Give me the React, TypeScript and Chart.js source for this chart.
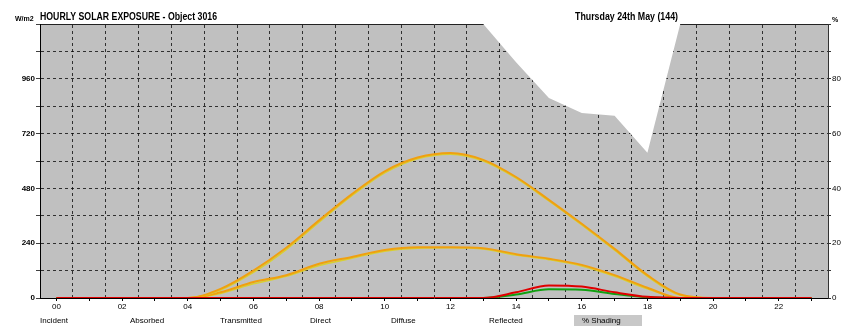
import React, { useEffect, useRef } from 'react';
import { Chart, registerables } from 'chart.js';

Chart.register(...registerables);

// Hour slots (values are plotted at the middle of each hour)
const hourLabels = ['00','01','02','03','04','05','06','07','08','09','10','11','12','13','14','15','16','17','18','19','20','21','22','23'];

// W/m2 series
const incident    = [0,0,0,0,0,40,120,220,340,455,555,615,635,605,530,430,325,215,100,15,0,0,0,0];
const transmitted = [0,0,0,0,0,35,112,212,332,448,548,610,630,600,525,425,320,210,95,12,0,0,0,0];
const direct      = [0,0,0,0,0,25,70,100,150,180,210,222,222,218,192,172,145,100,45,0,0,0,0,0];
const diffuse     = [0,0,0,0,0,20,62,95,142,174,205,218,220,215,188,168,140,95,40,0,0,0,0,0];
const absorbed    = [0,0,0,0,0,0,0,0,0,0,0,0,0,0,15,38,36,18,3,0,0,0,0,0];
const reflected   = [0,0,0,0,0,0,0,0,0,0,0,0,0,0,25,55,50,25,5,0,0,0,0,0];
// % shading (right axis)
const shading     = [100,100,100,100,100,100,100,100,100,100,100,100,100,100,86,73,67.5,66.5,53,100,100,100,100,100];

const legendLabels = ['Incident','Absorbed','Transmitted','Direct','Diffuse','Reflected','% Shading'];
const titleText = 'HOURLY SOLAR EXPOSURE - Object 3016';
const dateText = 'Thursday 24th May (144)';
const leftUnit = 'W/m2';
const rightUnit = '%';

const FONT = '"Liberation Sans", Arial, sans-serif';

const toPoints = (arr: number[]) => arr.map((v, i) => ({ x: i + 0.5, y: v }));

const decorPlugin = {
  id: 'decor',
  beforeDraw(chart: any) {
    const { ctx, chartArea: a } = chart;
    ctx.save();
    ctx.fillStyle = '#c0c0c0';
    ctx.fillRect(a.left, a.top, a.right - a.left, a.bottom - a.top);
    ctx.restore();
  },
  afterDraw(chart: any) {
    const { ctx, chartArea: a } = chart;
    ctx.save();
    ctx.fillStyle = '#000';
    ctx.textBaseline = 'middle';
    ctx.font = `bold 10px ${FONT}`;
    ctx.textAlign = 'left';
    ctx.fillText(titleText, a.left, 17, 177);
    ctx.fillText(dateText, 575, 17, 103);
    ctx.font = `bold 7px ${FONT}`;
    ctx.fillText(leftUnit, 15, 19, 23);
    ctx.fillText(rightUnit, 832, 20);
    // legend
    const xs = [40, 130, 220, 310, 391, 489, 582];
    ctx.fillStyle = '#c8c8c8';
    ctx.fillRect(574, 315, 68, 11);
    ctx.fillStyle = '#000';
    ctx.font = `8px ${FONT}`;
    legendLabels.forEach((t, i) => ctx.fillText(t, xs[i], 321));
    ctx.restore();
  },
};

export default function App() {
  const ref = useRef<HTMLCanvasElement | null>(null);
  useEffect(() => {
    if (!ref.current) return;
    const line = (label: string, data: number[], color: string, width: number, order: number) => ({
      label,
      data: toPoints(data),
      borderColor: color,
      backgroundColor: color,
      borderWidth: width,
      pointRadius: 0,
      cubicInterpolationMode: 'monotone' as const,
      fill: false,
      yAxisID: 'y',
      xAxisID: 'x',
      order,
    });
    const chart = new Chart(ref.current, {
      type: 'line',
      data: {
        datasets: [
          line('Diffuse', diffuse, '#d8d030', 1.5, 6),
          line('Direct', direct, '#f0a010', 2, 5),
          line('Transmitted', transmitted, '#d8d030', 1.5, 4),
          line('Incident', incident, '#f0a010', 2, 3),
          line('Absorbed', absorbed, '#10a010', 2, 2),
          line('Reflected', reflected, '#e00000', 2, 1),
          {
            label: '% Shading',
            data: toPoints(shading),
            borderWidth: 0,
            borderColor: 'rgba(0,0,0,0)',
            backgroundColor: '#ffffff',
            pointRadius: 0,
            fill: 'end',
            tension: 0,
            yAxisID: 'y1',
            xAxisID: 'x',
            order: 10,
          } as any,
        ],
      },
      options: {
        animation: false,
        responsive: false,
        events: [],
        layout: { padding: { top: 24, bottom: 14, left: 0, right: 0 } },
        plugins: { legend: { display: false }, tooltip: { enabled: false }, title: { display: false } },
        scales: {
          x: {
            type: 'linear',
            position: 'bottom',
            min: 0,
            max: 24,
            afterBuildTicks: (s: any) => {
              s.ticks = hourLabels.map((_, i) => ({ value: i + 0.5 }));
            },
            afterFit: (s: any) => { s.height = 14; },
            ticks: {
              autoSkip: false,
              maxRotation: 0,
              padding: 1,
              color: '#000',
              font: { size: 8, family: FONT },
              callback: (_v: any, i: number) => (i % 2 === 0 ? hourLabels[i] : ''),
            },
            grid: { drawOnChartArea: false, tickLength: 3, color: '#000' },
            border: { color: '#000', width: 1 },
          },
          xg: {
            type: 'linear',
            position: 'top',
            min: 0,
            max: 24,
            z: 1,
            afterFit: (s: any) => { s.height = 0; },
            ticks: { display: false, stepSize: 1 },
            grid: { drawTicks: false, color: 'rgba(0,0,0,0.75)', lineWidth: 1 },
            border: { display: true, color: '#222', width: 1, dash: [3, 3] },
          },
          y: {
            position: 'left',
            min: 0,
            max: 1200,
            z: 1,
            afterFit: (s: any) => { s.width = 40; },
            ticks: {
              stepSize: 120,
              padding: 1,
              color: '#000',
              font: { size: 8, family: FONT, weight: 'bold' },
              callback: (v: any) => (v % 240 === 0 && v < 1200 ? String(v) : ''),
            },
            grid: { color: 'rgba(0,0,0,0.75)', lineWidth: 1, tickLength: 4 },
            border: { color: '#000', width: 1, dash: [3, 3] },
          },
          y1: {
            position: 'right',
            min: 0,
            max: 100,
            afterFit: (s: any) => { s.width = 13; },
            ticks: {
              stepSize: 10,
              padding: 1,
              color: '#000',
              font: { size: 8, family: FONT },
              callback: (v: any) => (v % 20 === 0 && v < 100 ? String(v) : ''),
            },
            grid: { drawOnChartArea: false, tickLength: 3, color: '#333' },
            border: { color: '#333', width: 1 },
          },
        },
      } as any,
      plugins: [decorPlugin],
    });
    return () => chart.destroy();
  }, []);
  return (
    <div style={{ position: 'fixed', left: 0, top: 0, width: 841, height: 326, background: '#fff' }}>
      <canvas ref={ref} width={841} height={326} style={{ display: 'block' }} />
    </div>
  );
}
